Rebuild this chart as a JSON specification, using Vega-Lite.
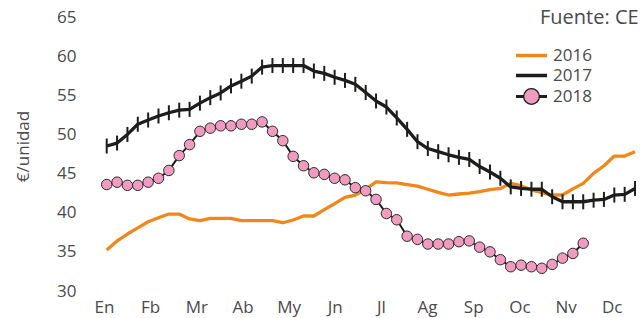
{
  "$schema": "https://vega.github.io/schema/vega-lite/v6.json",
  "autosize": {"type": "none"},
  "width": 545,
  "height": 274,
  "padding": {"left": 95, "top": 17, "right": 0, "bottom": 27},
  "background": "white",
  "title": {"text": "Fuente: CE", "anchor": "start", "frame": "group", "dx": 445, "offset": -36, "fontSize": 20, "font": "Open Sans", "fontWeight": "normal", "color": "#4a4a4a", "baseline": "alphabetic"},
  "config": {"view": {"stroke": null}, "font": "Open Sans"},
  "data": {"values": [
    {"anio":"2016","semana":1,"precio":35.24},{"anio":"2016","semana":2,"precio":36.4},{"anio":"2016","semana":3,"precio":37.28},{"anio":"2016","semana":4,"precio":38.06},{"anio":"2016","semana":5,"precio":38.85},{"anio":"2016","semana":6,"precio":39.35},{"anio":"2016","semana":7,"precio":39.83},{"anio":"2016","semana":8,"precio":39.83},{"anio":"2016","semana":9,"precio":39.2},{"anio":"2016","semana":10,"precio":38.98},{"anio":"2016","semana":11,"precio":39.28},{"anio":"2016","semana":12,"precio":39.28},{"anio":"2016","semana":13,"precio":39.28},{"anio":"2016","semana":14,"precio":38.98},{"anio":"2016","semana":15,"precio":38.98},{"anio":"2016","semana":16,"precio":38.98},{"anio":"2016","semana":17,"precio":38.98},{"anio":"2016","semana":18,"precio":38.72},{"anio":"2016","semana":19,"precio":39.07},{"anio":"2016","semana":20,"precio":39.58},{"anio":"2016","semana":21,"precio":39.58},{"anio":"2016","semana":22,"precio":40.4},{"anio":"2016","semana":23,"precio":41.15},{"anio":"2016","semana":24,"precio":41.97},{"anio":"2016","semana":25,"precio":42.26},{"anio":"2016","semana":26,"precio":43.0},{"anio":"2016","semana":27,"precio":43.95},{"anio":"2016","semana":28,"precio":43.85},{"anio":"2016","semana":29,"precio":43.8},{"anio":"2016","semana":30,"precio":43.6},{"anio":"2016","semana":31,"precio":43.4},{"anio":"2016","semana":32,"precio":43.0},{"anio":"2016","semana":33,"precio":42.6},{"anio":"2016","semana":34,"precio":42.26},{"anio":"2016","semana":35,"precio":42.39},{"anio":"2016","semana":36,"precio":42.5},{"anio":"2016","semana":37,"precio":42.7},{"anio":"2016","semana":38,"precio":42.95},{"anio":"2016","semana":39,"precio":43.1},{"anio":"2016","semana":40,"precio":43.75},{"anio":"2016","semana":41,"precio":43.45},{"anio":"2016","semana":42,"precio":42.9},{"anio":"2016","semana":43,"precio":42.55},{"anio":"2016","semana":44,"precio":42.26},{"anio":"2016","semana":45,"precio":42.26},{"anio":"2016","semana":46,"precio":43.05},{"anio":"2016","semana":47,"precio":43.75},{"anio":"2016","semana":48,"precio":45.03},{"anio":"2016","semana":49,"precio":46.0},{"anio":"2016","semana":50,"precio":47.24},{"anio":"2016","semana":51,"precio":47.24},{"anio":"2016","semana":52,"precio":47.8},
    {"anio":"2017","semana":1,"precio":48.52},{"anio":"2017","semana":2,"precio":48.9},{"anio":"2017","semana":3,"precio":50.0},{"anio":"2017","semana":4,"precio":51.3},{"anio":"2017","semana":5,"precio":51.84},{"anio":"2017","semana":6,"precio":52.35},{"anio":"2017","semana":7,"precio":52.77},{"anio":"2017","semana":8,"precio":53.1},{"anio":"2017","semana":9,"precio":53.2},{"anio":"2017","semana":10,"precio":54.0},{"anio":"2017","semana":11,"precio":54.7},{"anio":"2017","semana":12,"precio":55.3},{"anio":"2017","semana":13,"precio":56.2},{"anio":"2017","semana":14,"precio":56.8},{"anio":"2017","semana":15,"precio":57.45},{"anio":"2017","semana":16,"precio":58.6},{"anio":"2017","semana":17,"precio":58.8},{"anio":"2017","semana":18,"precio":58.8},{"anio":"2017","semana":19,"precio":58.8},{"anio":"2017","semana":20,"precio":58.8},{"anio":"2017","semana":21,"precio":58.1},{"anio":"2017","semana":22,"precio":57.8},{"anio":"2017","semana":23,"precio":57.3},{"anio":"2017","semana":24,"precio":56.9},{"anio":"2017","semana":25,"precio":56.4},{"anio":"2017","semana":26,"precio":55.35},{"anio":"2017","semana":27,"precio":54.27},{"anio":"2017","semana":28,"precio":53.5},{"anio":"2017","semana":29,"precio":52.1},{"anio":"2017","semana":30,"precio":50.65},{"anio":"2017","semana":31,"precio":49.07},{"anio":"2017","semana":32,"precio":48.2},{"anio":"2017","semana":33,"precio":47.8},{"anio":"2017","semana":34,"precio":47.4},{"anio":"2017","semana":35,"precio":47.07},{"anio":"2017","semana":36,"precio":46.8},{"anio":"2017","semana":37,"precio":45.9},{"anio":"2017","semana":38,"precio":45.2},{"anio":"2017","semana":39,"precio":44.4},{"anio":"2017","semana":40,"precio":43.3},{"anio":"2017","semana":41,"precio":43.1},{"anio":"2017","semana":42,"precio":43.0},{"anio":"2017","semana":43,"precio":43.0},{"anio":"2017","semana":44,"precio":42.04},{"anio":"2017","semana":45,"precio":41.4},{"anio":"2017","semana":46,"precio":41.4},{"anio":"2017","semana":47,"precio":41.4},{"anio":"2017","semana":48,"precio":41.6},{"anio":"2017","semana":49,"precio":41.7},{"anio":"2017","semana":50,"precio":42.26},{"anio":"2017","semana":51,"precio":42.35},{"anio":"2017","semana":52,"precio":43.1},
    {"anio":"2018","semana":1,"precio":43.6},{"anio":"2018","semana":2,"precio":43.9},{"anio":"2018","semana":3,"precio":43.5},{"anio":"2018","semana":4,"precio":43.5},{"anio":"2018","semana":5,"precio":43.9},{"anio":"2018","semana":6,"precio":44.4},{"anio":"2018","semana":7,"precio":45.4},{"anio":"2018","semana":8,"precio":47.3},{"anio":"2018","semana":9,"precio":48.7},{"anio":"2018","semana":10,"precio":50.4},{"anio":"2018","semana":11,"precio":50.8},{"anio":"2018","semana":12,"precio":51.1},{"anio":"2018","semana":13,"precio":51.1},{"anio":"2018","semana":14,"precio":51.3},{"anio":"2018","semana":15,"precio":51.3},{"anio":"2018","semana":16,"precio":51.6},{"anio":"2018","semana":17,"precio":50.4},{"anio":"2018","semana":18,"precio":49.2},{"anio":"2018","semana":19,"precio":47.2},{"anio":"2018","semana":20,"precio":46.0},{"anio":"2018","semana":21,"precio":45.1},{"anio":"2018","semana":22,"precio":44.9},{"anio":"2018","semana":23,"precio":44.4},{"anio":"2018","semana":24,"precio":44.2},{"anio":"2018","semana":25,"precio":43.2},{"anio":"2018","semana":26,"precio":42.8},{"anio":"2018","semana":27,"precio":41.7},{"anio":"2018","semana":28,"precio":39.9},{"anio":"2018","semana":29,"precio":39.1},{"anio":"2018","semana":30,"precio":37.0},{"anio":"2018","semana":31,"precio":36.6},{"anio":"2018","semana":32,"precio":36.0},{"anio":"2018","semana":33,"precio":36.0},{"anio":"2018","semana":34,"precio":36.0},{"anio":"2018","semana":35,"precio":36.3},{"anio":"2018","semana":36,"precio":36.4},{"anio":"2018","semana":37,"precio":35.6},{"anio":"2018","semana":38,"precio":35.0},{"anio":"2018","semana":39,"precio":34.0},{"anio":"2018","semana":40,"precio":33.1},{"anio":"2018","semana":41,"precio":33.3},{"anio":"2018","semana":42,"precio":33.1},{"anio":"2018","semana":43,"precio":32.9},{"anio":"2018","semana":44,"precio":33.4},{"anio":"2018","semana":45,"precio":34.2},{"anio":"2018","semana":46,"precio":34.8},{"anio":"2018","semana":47,"precio":36.1}
  ]},
  "encoding": {
    "x": {"field": "semana", "type": "quantitative",
      "scale": {"domain": [-0.13, 52.48], "nice": false, "zero": false},
      "axis": {"title": null, "values": [0.74, 5.195, 9.65, 14.105, 18.56, 23.015, 27.47, 31.925, 36.38, 40.835, 45.29, 49.745],
        "labelExpr": "['En','Fb','Mr','Ab','My','Jn','Jl','Ag','Sp','Oc','Nv','Dc'][round((datum.value-0.74)/4.455)]",
        "domain": false, "ticks": false, "grid": false, "labelPadding": 8, "labelFontSize": 17, "labelColor": "#4a4a4a", "labelFont": "Open Sans", "labelFlush": false, "labelOverlap": false}},
    "y": {"field": "precio", "type": "quantitative",
      "scale": {"domain": [30, 65], "nice": false, "zero": false},
      "axis": {"title": "€/unidad", "values": [30, 35, 40, 45, 50, 55, 60, 65], "domain": false, "ticks": false, "grid": false,
        "labelPadding": 19, "labelFontSize": 17, "labelColor": "#4a4a4a", "labelFont": "Open Sans",
        "titleFontSize": 17, "titleFontWeight": "normal", "titleColor": "#4a4a4a", "titleFont": "Open Sans",
        "titleX": -67, "titleY": 129, "titleAlign": "center", "titleBaseline": "alphabetic", "titleAngle": -90}}
  },
  "layer": [
    {"transform": [{"filter": "datum.anio != '2018'"}],
     "mark": {"type": "line", "strokeWidth": 3.3, "strokeJoin": "round"},
     "encoding": {"color": {"field": "anio", "type": "nominal",
       "scale": {"domain": ["2016", "2017", "2018"], "range": ["#f0871a", "#1d1d1b", "#1d1d1b"]},
       "legend": {"title": null, "orient": "none", "legendX": 428, "legendY": 30, "padding": 0,
         "symbolType": "M-1.5,0H1.5", "symbolSize": 428, "symbolStrokeWidth": 3.5,
         "labelFontSize": 17, "labelOffset": 13, "rowPadding": 2, "labelColor": "#4a4a4a", "labelFont": "Open Sans",
         "encode": {"symbols": {"update": {
           "shape": {"signal": "datum.label == '2018' ? 'M-1.5,0H-0.76M-1.5,-0.08H-0.76M-1.5,0.08H-0.76M0.76,0H1.5M0.76,-0.08H1.5M0.76,0.08H1.5M-0.76,0A0.76,0.76 0 1 1 0.76,0A0.76,0.76 0 1 1 -0.76,0Z' : 'M-1.5,0H1.5'"},
           "fill": {"signal": "datum.label == '2018' ? '#f09bbf' : 'transparent'"},
           "strokeWidth": {"signal": "datum.label == '2018' ? 1.3 : 3.5"}}}}}}}},
    {"transform": [{"filter": "datum.anio == '2017'"}],
     "mark": {"type": "tick", "orient": "vertical", "size": 15, "thickness": 2, "color": "#1d1d1b", "opacity": 1}},
    {"transform": [{"filter": "datum.anio == '2018'"}],
     "mark": {"type": "line", "strokeWidth": 2, "color": "#1d1d1b"}},
    {"transform": [{"filter": "datum.anio == '2018'"}],
     "mark": {"type": "point", "filled": true, "fill": "#f09bbf", "stroke": "#2b2b2b", "strokeWidth": 1, "size": 110, "opacity": 1}}
  ]
}
